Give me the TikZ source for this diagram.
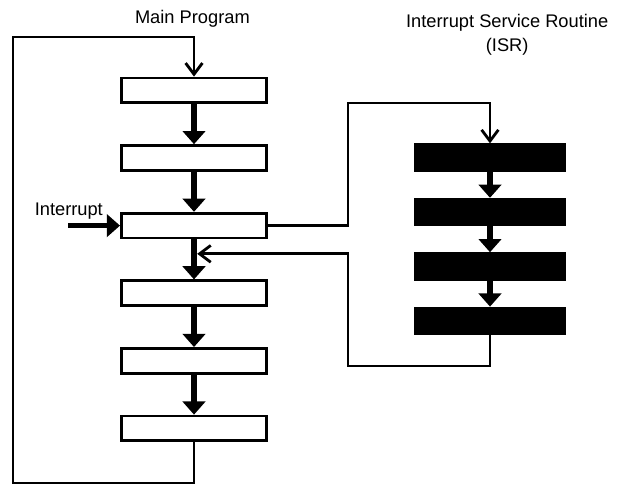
\documentclass[tikz,border=0pt]{standalone}
\usepackage{fontspec}
\setmainfont{Liberation Sans}
\usetikzlibrary{arrows.meta}
\usetikzlibrary{positioning}

\begin{document}
\begin{tikzpicture}[line width=2pt,node distance=1cm,
	font=\fontsize{13}{17}\selectfont,
	prog/.style={draw,minimum width=3.63cm,minimum height=0.62cm,inner sep=0pt},
	isr/.style={draw,fill=black,minimum width=3.71cm,minimum height=0.64cm,inner sep=0pt},
	flow/.style={-{Triangle[length=0.33cm,width=0.56cm]},line width=4pt},
	jump/.style={-{Straight Barb[length=0.28cm,width=0.42cm]}}]
	\useasboundingbox (0,0) rectangle (15.6,12.15);

	% main program
	\node[anchor=base] (main) at (4.81,11.55) {Main Program};
	\node[prog] (m1) at (4.85,9.89) {};
	\node[prog] (m2) [below=of m1] {};
	\node[prog] (m3) [below=of m2] {};
	\node[prog] (m4) [below=of m3] {};
	\node[prog] (m5) [below=of m4] {};
	\node[prog] (m6) [below=of m5] {};

	% service routine
	\node[align=center,anchor=north] (isrtitle) at (12.68,11.95) {Interrupt Service Routine\\(ISR)};
	\node[isr] (s1) at (12.25,8.21) {};
	\node[isr] (s2) [below=0.65cm of s1] {};
	\node[isr] (s3) [below=0.65cm of s2] {};
	\node[isr] (s4) [below=0.65cm of s3] {};

	\node[anchor=base] (irq) at (1.72,6.775) {Interrupt};
	\coordinate (irqin) at (1.7,0 |- m3.west);

	\coordinate (bl) at (0.325,0.075);
	\coordinate (tl) at (0.325,11.225);
	\coordinate (up) at (8.7,9.575);
	\coordinate (dn) at (8.7,3.0);
	\coordinate (back) at ([xshift=0.08cm,yshift=-0.36cm]m3.south);

	\foreach \a/\b in {m1/m2,m2/m3,m3/m4,m4/m5,m5/m6,s1/s2,s2/s3,s3/s4}
		\draw[flow] (\a) -- (\b);
	\draw[flow] (irqin) -- (m3.west);

	\draw[jump] (m6.south) |- (bl) -- (tl) -| (m1.north);
	\draw[jump] (m3.east) -| (up) -| (s1.north);
	\draw[jump] (s4.south) |- (dn) |- (back);
\end{tikzpicture}
\end{document}
